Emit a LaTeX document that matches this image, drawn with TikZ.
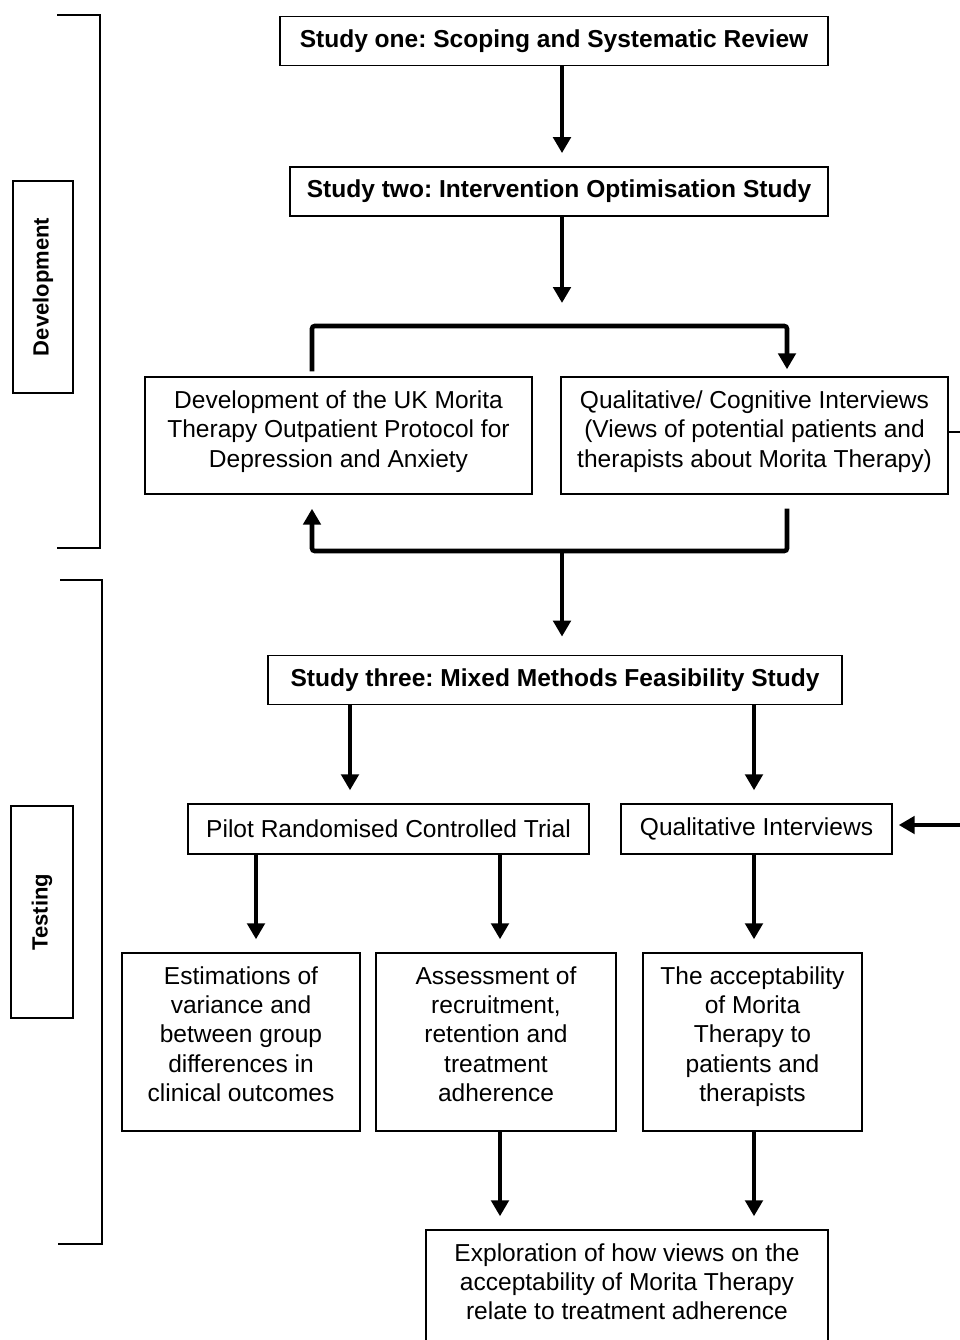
\documentclass[tikz,border=0pt]{standalone}
\usepackage{fontspec}
\setmainfont{Liberation Sans}
\usetikzlibrary{arrows.meta}

\begin{document}
\frenchspacing
\begin{tikzpicture}[x=0.75pt,y=-0.75pt,>={Triangle[width=13pt,length=12pt]},
box/.style={draw,line width=1.1pt,align=center,inner sep=0pt,font=\fontsize{18.4}{22}\selectfont},
head/.style={box,font=\fontsize{18.4}{22}\selectfont\bfseries,minimum height=37pt},
side/.style={draw,line width=1.1pt,rotate=90,inner sep=0pt,minimum width=159pt,font=\fontsize{16.5}{20}\selectfont\bfseries},
flow/.style={->,line width=3.4pt,shorten >=9.75pt},
link/.style={line width=3.4pt,rounded corners=2pt},
brace/.style={line width=2.2pt}]
\useasboundingbox (0,0) rectangle (960,1340);
\clip (0,0) rectangle (960,1340);

% development stage
\node[head,minimum width=411pt] (s1) at (554,41) {Study one: Scoping and Systematic Review};
\node[head,minimum width=403.5pt] (s2) at (559,191.5) {Study two: Intervention Optimisation Study};
\node[box,minimum width=290.25pt,minimum height=87.75pt] (dev) at (338.5,435.5) {Development of the UK Morita\\Therapy Outpatient Protocol for\\Depression and Anxiety\\[-12pt]};
\node[box,minimum width=290.25pt,minimum height=87.75pt] (qcog) at (754.5,435.5) {Qualitative/ Cognitive Interviews\\(Views of potential patients and\\therapists about Morita Therapy)\\[-12pt]};

% testing stage
\node[head,minimum width=430.5pt] (s3) at (555,680) {Study three: Mixed Methods Feasibility Study};
\node[box,minimum width=300.75pt,minimum height=37.5pt] (rct) at (388.5,829) {Pilot Randomised Controlled Trial};
\node[box,minimum width=203.25pt,minimum height=37.5pt] (qint) at (756.5,829) {Qualitative Interviews};
\node[box,minimum width=178.5pt,minimum height=133.5pt] (est) at (241,1042) {Estimations of\\variance and\\between group\\differences in\\clinical outcomes\\[-10pt]};
\node[box,minimum width=180pt,minimum height=133.5pt] (ass) at (496,1042) {Assessment of\\recruitment,\\retention and\\treatment\\adherence\\[-10pt]};
\node[box,minimum width=164.25pt,minimum height=133.5pt] (acc) at (752.5,1042) {The acceptability\\of Morita\\Therapy to\\patients and\\therapists\\[-10pt]};
\node[box,minimum width=301.5pt,minimum height=121.5pt] (expl) at (627,1311) {Exploration of how views on the\\acceptability of Morita Therapy\\relate to treatment adherence\\[22pt]};

% stage labels
\node[side,minimum height=45pt] (devlab) at (43,287) {Development};
\node[side,minimum height=46.5pt] (testlab) at (42,912) {Testing};
\draw[brace] (57,15) -- (100,15) -- (100,548) -- (57,548);
\draw[brace] (60,580) -- (102,580) -- (102,1244) -- (58,1244);

% connectors
\coordinate (split) at (562,303);
\coordinate (lt) at (312,326);
\coordinate (rt) at (787,326);
\coordinate (lb) at (312,551);
\coordinate (rb) at (787,551);
\coordinate (mid) at (562,551);
\coordinate (outtop) at (985,432);
\coordinate (outbot) at (985,825);

\foreach \a/\b/\x in {s1/s2/562,s3/rct/350,s3/qint/754,rct/est/256,rct/ass/500,qint/acc/754,ass/expl/500,acc/expl/754}{\draw[flow] (\a.south -| \x,0) -- (\b.north -| \x,0);}
\draw[flow,shorten >=0pt] (s2.south -| split) -- (split);
\draw[link,->,shorten <=3.75pt,shorten >=5.25pt] (dev.north -| lt) -- (lt) -- (rt) -- (qcog.north -| rt);
\draw[link,->,shorten <=10.5pt,shorten >=10.5pt] (qcog.south -| rb) -- (rb) -- (lb) -- (dev.south -| lb);
\draw[flow,shorten >=13.5pt] (mid) -- (s3.north -| mid);
\draw[line width=1.1pt] (qcog.east |- outtop) -- (outtop);
\draw[flow,shorten >=4.5pt] (outbot) -- (qint.east |- outbot);
\end{tikzpicture}
\end{document}
